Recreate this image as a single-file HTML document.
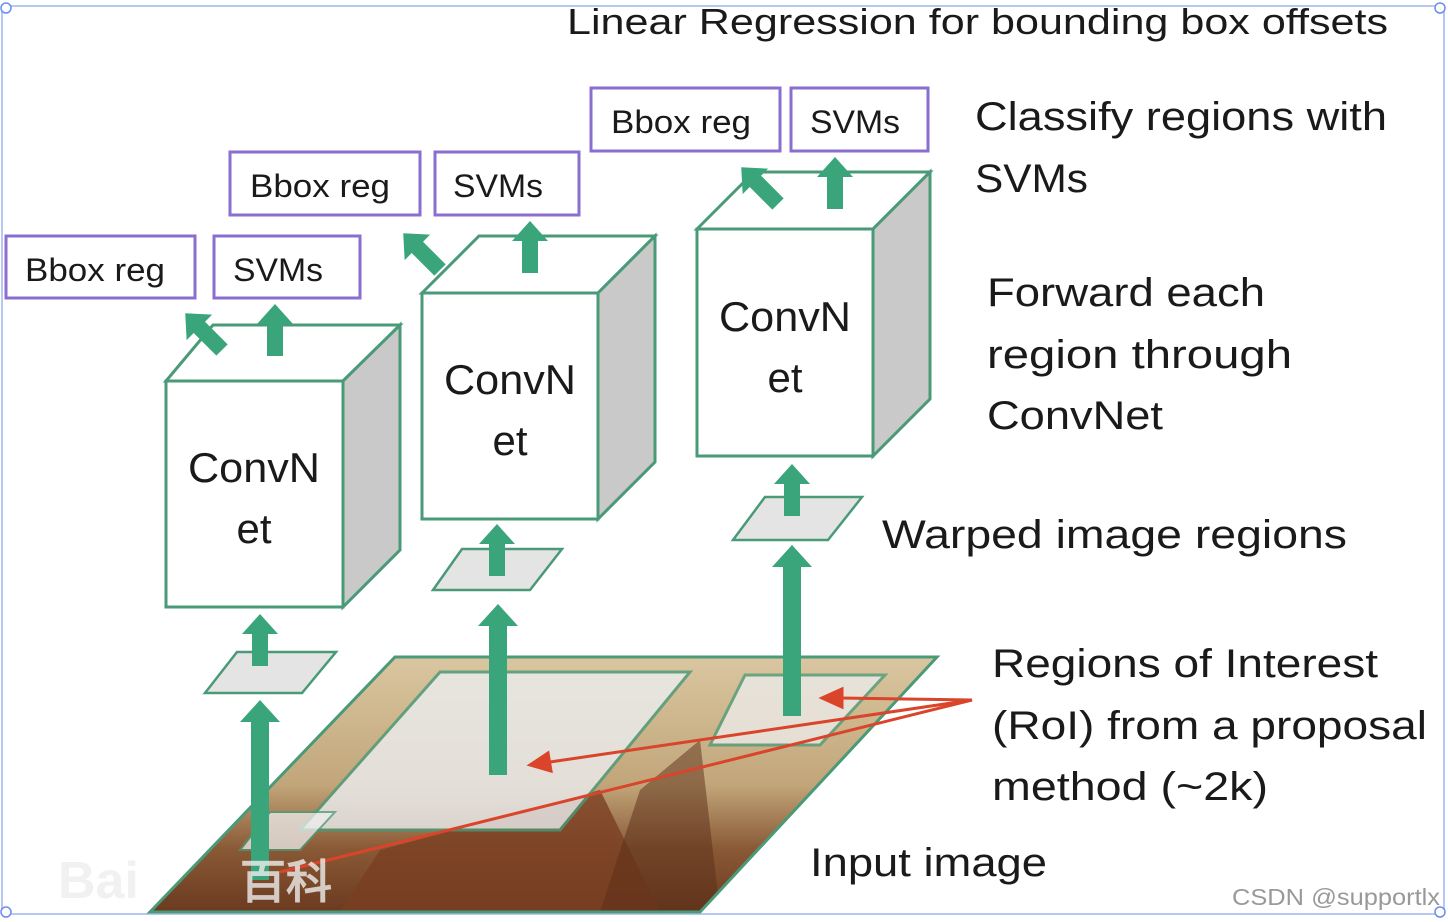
<!DOCTYPE html>
<html><head><meta charset="utf-8"><style>
html,body{margin:0;padding:0;background:#fff;width:1448px;height:922px;overflow:hidden}
svg{display:block}
text{font-family:"Liberation Sans",sans-serif;fill:#1a1a1a}
</style></head><body>
<svg width="1448" height="922" viewBox="0 0 1448 922">
<defs>
<linearGradient id="img" x1="0" y1="0" x2="0" y2="1">
<stop offset="0" stop-color="#d9c6a0"/><stop offset="0.5" stop-color="#c2a67a"/><stop offset="0.75" stop-color="#8a5a36"/><stop offset="1" stop-color="#6b3a20"/>
</linearGradient>
<clipPath id="cp"><polygon points="395,657 937,657 700,912 150,912"/></clipPath>
<g id="up"><polygon points="-8,0 -8,-32 -18,-32 0,-52 18,-32 8,-32 8,0" fill="#3aa57a"/></g>
</defs>
<rect x="2" y="6" width="1442" height="908" rx="6" fill="#fff" stroke="#b8c8f4" stroke-width="2"/>
<circle cx="6" cy="8" r="5" fill="#fff" stroke="#6a8ef0" stroke-width="1.5"/>
<circle cx="1440" cy="8" r="5" fill="#fff" stroke="#6a8ef0" stroke-width="1.5"/>
<circle cx="6" cy="912" r="5" fill="#fff" stroke="#6a8ef0" stroke-width="1.5"/>
<circle cx="1440" cy="912" r="5" fill="#fff" stroke="#6a8ef0" stroke-width="1.5"/>

<!-- input image -->
<polygon points="395,657 937,657 700,912 150,912" fill="url(#img)"/>
<g clip-path="url(#cp)">
<polygon points="380,850 600,790 660,912 340,912" fill="#7a3f22" opacity="0.8"/>
<polygon points="640,790 700,740 720,912 600,912" fill="#5a2e18" opacity="0.5"/>
</g>
<polygon points="395,657 937,657 700,912 150,912" fill="none" stroke="#4a9a78" stroke-width="3"/>
<polygon points="440,672 690,672 560,830 300,830" fill="#eceef0" opacity="0.8" stroke="#4a9a78" stroke-width="3"/>
<polygon points="745,675 885,675 820,745 710,745" fill="#eee" opacity="0.75" stroke="#4a9a78" stroke-width="3"/>
<polygon points="270,812 335,812 300,850 240,850" fill="#eee" opacity="0.75" stroke="#4a9a78" stroke-width="2"/>
<g stroke="#d9442a" stroke-width="3" fill="#d9442a">
<line x1="972" y1="700" x2="840" y2="698"/><polygon points="822,698 842,689 842,707"/>
<line x1="972" y1="700" x2="550" y2="762"/><polygon points="530,765 548,753 551,771"/>
<line x1="972" y1="700" x2="280" y2="872"/>
</g>

<!-- long arrows -->
<rect x="251" y="720" width="18" height="160" fill="#3aa57a"/>
<polygon points="240,722 260,700 280,722" fill="#3aa57a"/>
<rect x="489" y="625" width="18" height="150" fill="#3aa57a"/><polygon points="478,626 498,604 518,626" fill="#3aa57a"/>
<rect x="783" y="566" width="18" height="150" fill="#3aa57a"/><polygon points="772,567 792,545 812,567" fill="#3aa57a"/>

<!-- warped regions -->
<g fill="#e4e4e4" stroke="#4a9a78" stroke-width="2.5">
<polygon points="205,693 237,652 336,652 302,693"/>
<polygon points="433,590 462,549 562,549 530,590"/>
<polygon points="733,540 765,497 862,497 828,540"/>
</g>
<use href="#up" transform="translate(260,666)"/>
<use href="#up" transform="translate(497,576)"/>
<use href="#up" transform="translate(792,516)"/>

<!-- cubes -->
<g stroke="#4a9a78" stroke-width="3">
<polygon points="166,381 213,325 400,325 343,381" fill="#fff"/>
<polygon points="343,381 400,325 400,550 343,607" fill="#c9c9c9"/>
<rect x="166" y="381" width="177" height="226" fill="#fff"/>
<polygon points="422,293 479,236 655,236 598,293" fill="#fff"/>
<polygon points="598,293 655,236 655,462 598,519" fill="#c9c9c9"/>
<rect x="422" y="293" width="176" height="226" fill="#fff"/>
<polygon points="697,229 754,172 930,172 873,229" fill="#fff"/>
<polygon points="873,229 930,172 930,399 873,456" fill="#c9c9c9"/>
<rect x="697" y="229" width="176" height="227" fill="#fff"/>
</g>
<g font-size="42" text-anchor="middle">
<text x="254" y="482" textLength="132" lengthAdjust="spacingAndGlyphs">ConvN</text><text x="254" y="543">et</text>
<text x="510" y="394" textLength="132" lengthAdjust="spacingAndGlyphs">ConvN</text><text x="510" y="455">et</text>
<text x="785" y="331" textLength="132" lengthAdjust="spacingAndGlyphs">ConvN</text><text x="785" y="392">et</text>
</g>
<!-- top arrows -->
<use href="#up" transform="translate(275,356)"/>
<use href="#up" transform="translate(530,273)"/>
<use href="#up" transform="translate(835,209)"/>
<use href="#up" transform="translate(222,350) rotate(-45)"/>
<use href="#up" transform="translate(440,270) rotate(-45)"/>
<use href="#up" transform="translate(778,204) rotate(-45)"/>

<!-- boxes -->
<g fill="#fff" stroke="#8a6fd0" stroke-width="3">
<rect x="6" y="236" width="189" height="62"/><rect x="214" y="236" width="146" height="62"/>
<rect x="230" y="152" width="190" height="63"/><rect x="435" y="152" width="144" height="63"/>
<rect x="591" y="88" width="189" height="63"/><rect x="791" y="88" width="137" height="63"/>
</g>
<g font-size="32">
<text x="25" y="281" textLength="140" lengthAdjust="spacingAndGlyphs">Bbox reg</text><text x="233" y="281" textLength="90" lengthAdjust="spacingAndGlyphs">SVMs</text>
<text x="250" y="197" textLength="140" lengthAdjust="spacingAndGlyphs">Bbox reg</text><text x="453" y="197" textLength="90" lengthAdjust="spacingAndGlyphs">SVMs</text>
<text x="611" y="133" textLength="140" lengthAdjust="spacingAndGlyphs">Bbox reg</text><text x="810" y="133" textLength="90" lengthAdjust="spacingAndGlyphs">SVMs</text>
</g>

<g font-size="40">
<text x="567" y="34" font-size="36" textLength="821" lengthAdjust="spacingAndGlyphs">Linear Regression for bounding box offsets</text>
<text x="975" y="130" textLength="412" lengthAdjust="spacingAndGlyphs">Classify regions with</text>
<text x="975" y="192" textLength="113" lengthAdjust="spacingAndGlyphs">SVMs</text>
<text x="987" y="306" textLength="278" lengthAdjust="spacingAndGlyphs">Forward each</text>
<text x="987" y="368" textLength="305" lengthAdjust="spacingAndGlyphs">region through</text>
<text x="987" y="429" textLength="176" lengthAdjust="spacingAndGlyphs">ConvNet</text>
<text x="882" y="548" textLength="465" lengthAdjust="spacingAndGlyphs">Warped image regions</text>
<text x="992" y="677" textLength="386" lengthAdjust="spacingAndGlyphs">Regions of Interest</text>
<text x="992" y="739" textLength="435" lengthAdjust="spacingAndGlyphs">(RoI) from a proposal</text>
<text x="992" y="800" textLength="276" lengthAdjust="spacingAndGlyphs">method (~2k)</text>
<text x="810" y="876" textLength="237" lengthAdjust="spacingAndGlyphs">Input image</text>
</g>
<text x="58" y="898" font-size="52" font-weight="bold" style="fill:#eee;opacity:0.8">Bai</text>
<text x="240" y="898" font-size="46" font-weight="bold" style="fill:#eee;opacity:0.8">百科</text>
<text x="1232" y="905" font-size="23" textLength="208" lengthAdjust="spacingAndGlyphs" style="fill:#999">CSDN @supportlx</text>
</svg>
</body></html>
